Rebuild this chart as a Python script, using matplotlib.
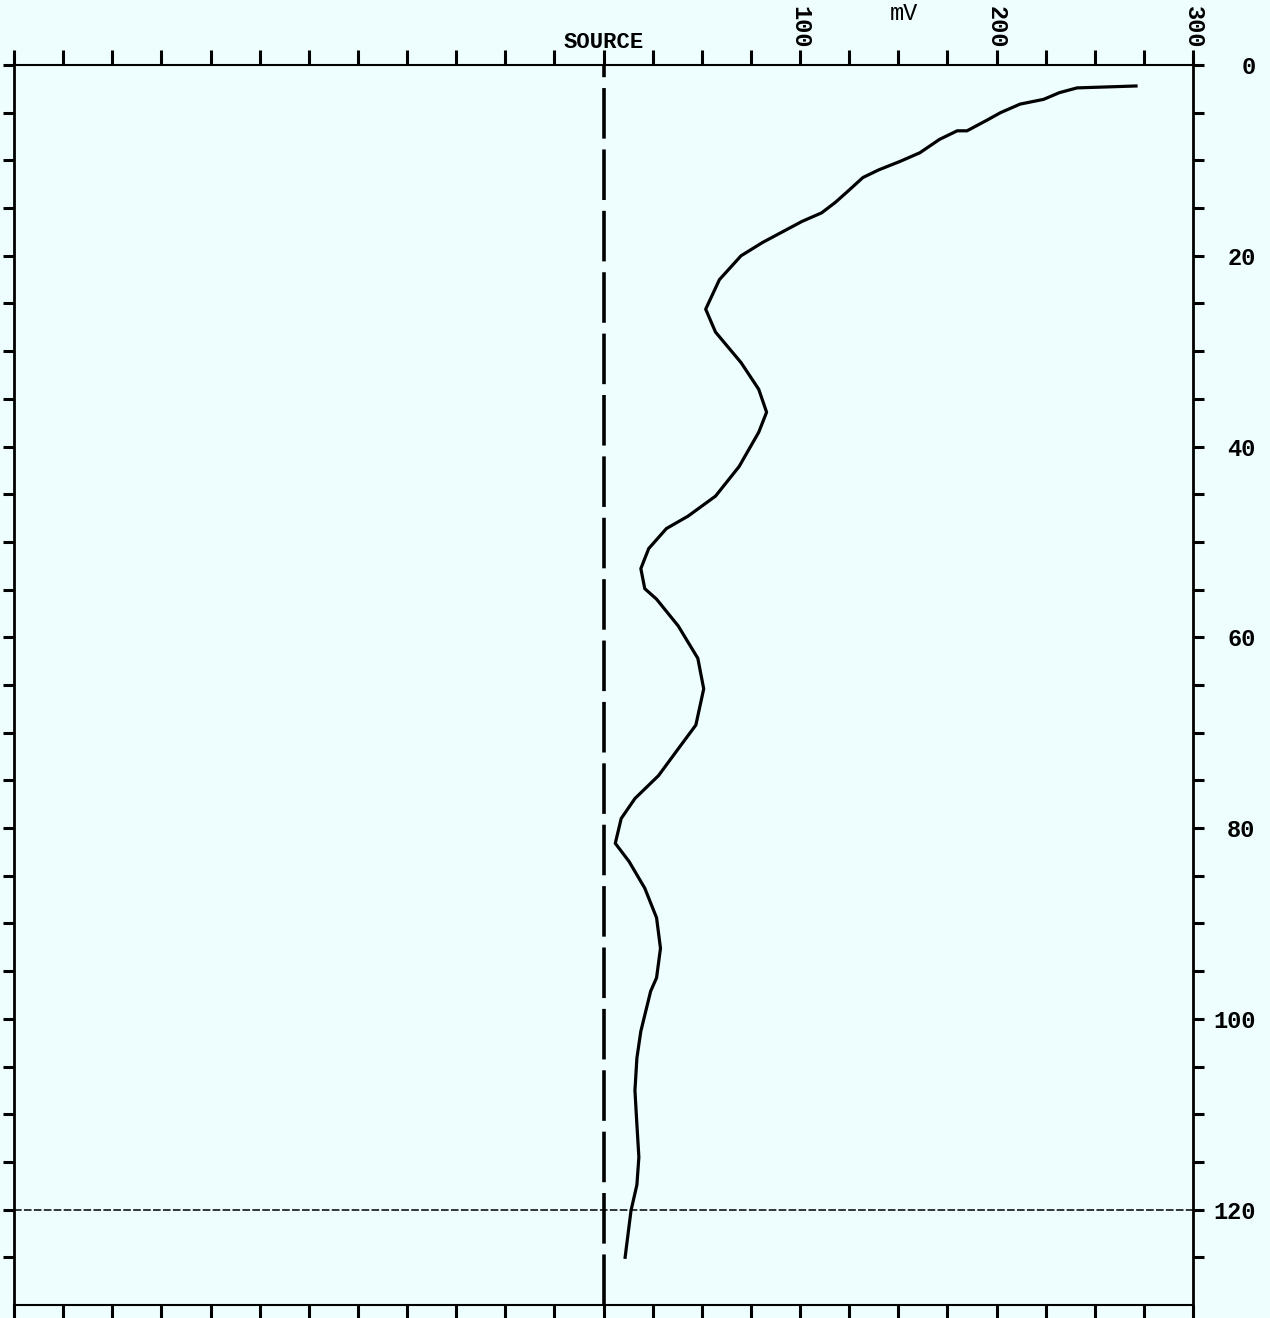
import numpy as np
import matplotlib
matplotlib.use('Agg')
import matplotlib.pyplot as plt

# perfil de potencial (mV) frente a profundidad
mv = [271, 241, 232, 224, 212, 202, 195, 185, 180, 171, 161, 151, 140, 132,
      124, 118, 111, 101, 91, 81, 70, 59, 52, 57, 70, 79, 83, 79, 69, 57, 43,
      32, 23, 19, 21, 27, 38, 48, 51, 47, 38, 28, 16, 9, 6, 13, 21, 27, 29,
      27, 24, 19, 17, 16, 17, 18, 17, 14, 11]
depth = [2.2, 2.4, 2.9, 3.6, 4.1, 5.0, 5.8, 6.9, 6.9, 7.8, 9.2, 10.1, 11.0,
         11.8, 13.3, 14.4, 15.5, 16.4, 17.5, 18.6, 20.0, 22.5, 25.6, 28.0,
         31.2, 34.0, 36.4, 38.5, 42.1, 45.2, 47.3, 48.6, 50.7, 52.8, 54.9,
         56.0, 58.8, 62.2, 65.4, 69.2, 71.7, 74.5, 76.9, 79.0, 81.6, 83.5,
         86.3, 89.4, 92.6, 95.7, 97.1, 101.3, 104.1, 107.5, 111.1, 114.5,
         117.4, 120.1, 125.0]

x_ticks = np.arange(-300, 301, 25)
x_labels = ['100', '200', '300']
y_ticks = np.arange(0, 130, 5)
y_labels = ['0', '20', '40', '60', '80', '100', '120']
line_depth = 120

bg = '#eefefe'
fig = plt.figure(figsize=(12.7, 13.18), dpi=100, facecolor=bg)
ax = fig.add_axes([14 / 1270, 13 / 1318, 1179 / 1270, 1240 / 1318])
ax.set_facecolor(bg)

ax.plot(mv, depth, color='black', lw=2.3)
ax.axvline(0, color='black', lw=2.6, linestyle=(0, (14, 3)))
ax.axhline(line_depth, color='black', lw=1.1, linestyle=(0, (5, 1.5)))

ax.set_xlim(-300, 300)
ax.set_ylim(130, 0)

font = 'Liberation Mono'
tl = [str(v) if str(v) in x_labels else '' for v in x_ticks]
ax.set_xticks(x_ticks, tl)
ax.tick_params(axis='x', top=True, bottom=True, labeltop=True, labelbottom=False,
               direction='out', length=11, width=2.2, labelsize=17, labelrotation=270,
               pad=1)
for lab in ax.get_xticklabels():
    lab.set_fontfamily(font)
    lab.set_fontweight('bold')

yl = [str(v) if str(v) in y_labels else '' for v in y_ticks]
ax.set_yticks(y_ticks, yl)
ax.tick_params(axis='y', left=True, right=True, labelleft=False, labelright=True,
               direction='out', length=8, width=2.2, labelsize=17, pad=37)
for lab in ax.get_yticklabels():
    lab.set_fontfamily(font)
    lab.set_fontweight('bold')
    lab.set_horizontalalignment('right')

for s in ax.spines.values():
    s.set_linewidth(2.0)
ax.spines['top'].set_linestyle((0, (8, 1)))
ax.spines['bottom'].set_linestyle((0, (8, 1)))
ax.spines['top'].set_linewidth(1.5)
ax.spines['bottom'].set_linewidth(1.5)

ax.text(0, 1.01, 'SOURCE', transform=ax.get_xaxis_transform(), ha='center',
        va='bottom', fontsize=16, family=font, fontweight='bold')
fig.text(904 / 1270, 1 - 2 / 1318, 'mV', ha='center', va='top',
         fontsize=17, family=font)

fig.savefig('out.png', dpi=100, facecolor=bg)
